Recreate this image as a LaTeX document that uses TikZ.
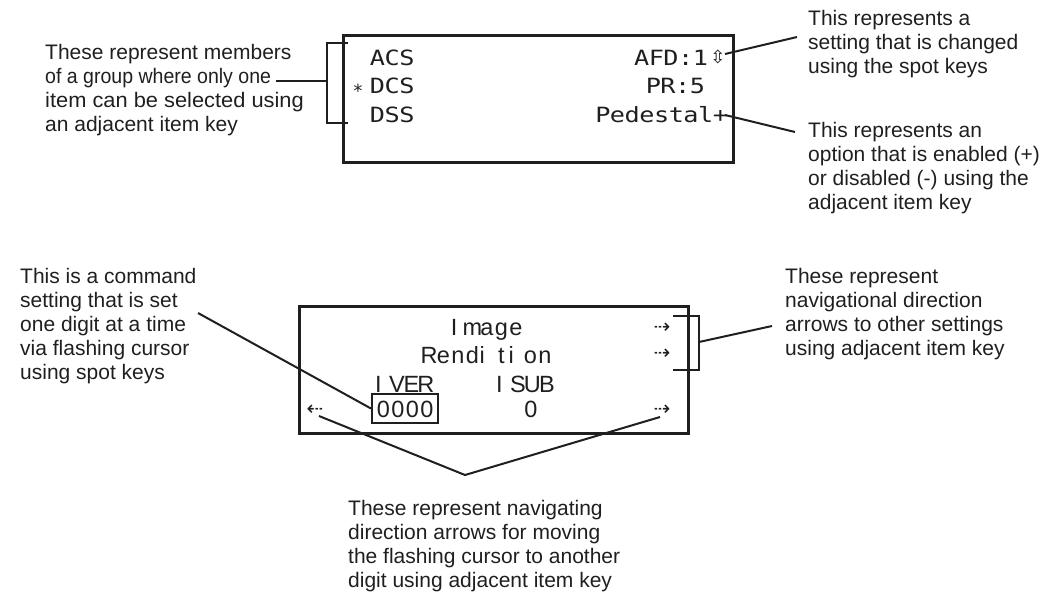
\documentclass[tikz,border=0pt]{standalone}
\usepackage{fontspec}
\usepackage{graphicx}
\setmainfont{Liberation Sans}
\newfontfamily\lcdfont{DejaVu Sans Mono}
\newfontfamily\symfont{DejaVu Sans}
\ExplSyntaxOn
\NewDocumentCommand\cells{mm}{
  \tl_map_inline:nn {#2} {
    \str_case:nnF {##1}
      { {i}{\makebox[#1][l]{##1}} {I}{\makebox[#1][l]{##1}} }
      {\makebox[#1][c]{##1}}
  }
}
\NewDocumentCommand\wcells{mm}{
  \tl_map_inline:nn {#2} { \makebox[#1][c]{##1} }
}
\ExplSyntaxOff
\newcommand\lines[1]{\begin{tabular}[t]{@{}l@{}}#1\end{tabular}}
\newcommand\stretched[2]{{\addfontfeature{FakeStretch=#1}#2}}
\tikzset{
  note/.style={anchor=base west, inner sep=0pt, font=\fontsize{21}{24}\selectfont, text=black!88},
  frame/.style={draw=black!88, line width=2.6pt, inner sep=0pt, anchor=north west},
  leader/.style={draw=black!88, line width=2pt},
  bracket/.style={draw=black!88, line width=2.4pt},
  lcd/.style={inner sep=0pt, text=black!88, font=\lcdfont\addfontfeature{FakeStretch=1.2}\fontsize{21}{24}\selectfont},
  disp/.style={inner sep=0pt, text=black!88, font=\fontsize{23.5}{28}\selectfont},
  arr/.style={inner sep=0pt, text=black!88, font=\symfont\fontsize{20}{22}\selectfont},
}
\begin{document}
\begin{tikzpicture}[x=1pt,y=-1pt]
\useasboundingbox (0,0) rectangle (1056,595);
% ---------- top display ----------
\node[frame, minimum width=390pt, minimum height=127pt] (top) at (342,34) {};
\node[lcd, anchor=base west] (acs) at (370,65) {\wcells{14.7pt}{ACS}};
\node[lcd, anchor=base west] (dcs) at (370,93) {\wcells{14.7pt}{DCS}};
\node[lcd, anchor=base west] (dss) at (370,122) {\wcells{14.7pt}{DSS}};
\node[lcd, anchor=base, font=\lcdfont\fontsize{18}{20}\selectfont] (star) at (358,97) {*};
\node[lcd, anchor=base east] (afd) at (708,65) {\wcells{14.7pt}{AFD:1}};
\node[lcd, anchor=base east] (pr) at (705,93) {\wcells{14.7pt}{PR:5}};
\node[lcd, anchor=base east] (ped) at (728,122) {\wcells{14.7pt}{Pedestal+}};
\node[arr, font=\symfont\fontsize{18}{20}\selectfont] (updn) at (718,57) {⇳};
% bracket on the left
\coordinate (bA1) at (348,43);
\coordinate (bA2) at (348,123);
\coordinate (bAm) at (327,81);
\draw[bracket] (bA1) -| (bA2 -| bAm) -- (bA2);
% notes of the top display
\node[note] (nA) at (45,59) {\lines{These represent members\\\stretched{0.93}{of a group where only one}\\\stretched{1.04}{item can be selected using}\\an adjacent item key}};
\node[note] (nB) at (808,25) {\lines{This represents a\\setting that is changed\\using the spot keys}};
\node[note] (nC) at (808,137) {\lines{This represents an\\option that is enabled (+)\\or disabled (-) using the\\adjacent item key}};
\coordinate (lA) at (276,81);
\coordinate (lB1) at (725,54);
\coordinate (lB2) at (797,37);
\coordinate (lC1) at (725,115);
\coordinate (lC2) at (795,132);
\draw[leader] (lA) -- (bAm);
\draw[leader] (lB1) -- (lB2);
\draw[leader] (lC1) -- (lC2);
% ---------- bottom display ----------
\node[frame, minimum width=389pt, minimum height=127pt] (bot) at (298,305) {};
\node[disp, anchor=base] (img) at (487,335) {\cells{14.5pt}{Image}};
\node[disp, anchor=base] (rend) at (487,363) {\cells{14.5pt}{Rendition}};
\node[disp, anchor=base west] (iver) at (375,392) {\cells{14.5pt}{IVER}};
\node[disp, anchor=base west] (isub) at (496,392) {\cells{14.5pt}{ISUB}};
\node[disp, anchor=base west, draw=black!88, line width=2.2pt, inner xsep=4pt, inner ysep=0pt, text height=23pt, text depth=6pt] (zero) at (371,417) {\cells{14.5pt}{0000}};
\node[disp, anchor=base] (zval) at (531,417) {0};
\node[arr] (ra1) at (662,328) {⇢};
\node[arr] (ra2) at (662,354) {⇢};
\node[arr] (ra3) at (662,410) {⇢};
\node[arr] (la) at (315,410) {⇠};
% bracket on the right
\coordinate (bE1) at (673,316);
\coordinate (bE2) at (673,370);
\coordinate (bEm) at (699,342);
\draw[bracket] (bE1) -| (bE2 -| bEm) -- (bE2);
% notes of the bottom display
\node[note] (nD) at (20,283) {\lines{This is a command\\setting that is set\\one digit at a time\\via flashing cursor\\using spot keys}};
\node[note] (nE) at (785,283) {\lines{These represent\\navigational direction\\arrows to other settings\\using adjacent item key}};
\node[note] (nF) at (348,515) {\lines{These represent navigating\\direction arrows for moving\\the flashing cursor to another\\digit using adjacent item key}};
\coordinate (lD) at (198,313);
\coordinate (lE) at (772,326);
\coordinate (lF1) at (319,416);
\coordinate (lF) at (465,475);
\coordinate (lF2) at (660,417);
\draw[leader] (lD) -- (zero.west);
\draw[leader] (bEm) -- (lE);
\draw[leader] (lF1) -- (lF) -- (lF2);
\end{tikzpicture}
\end{document}
